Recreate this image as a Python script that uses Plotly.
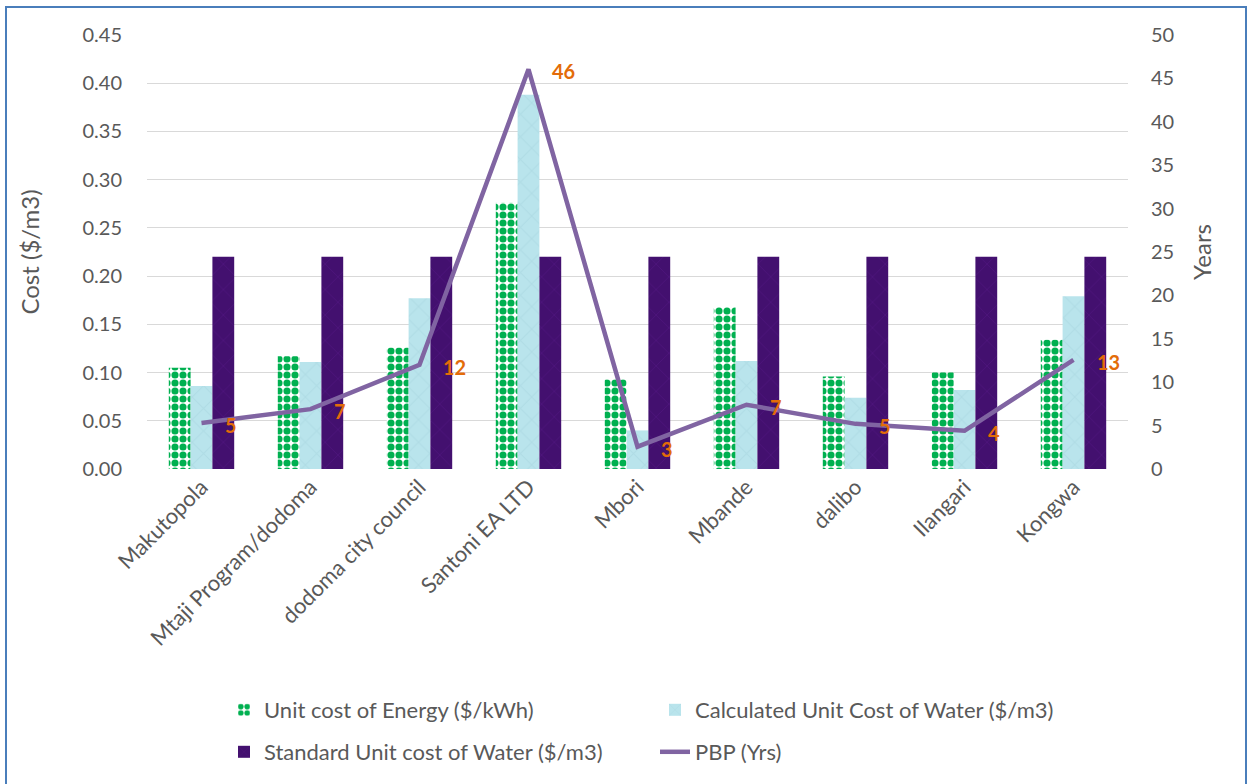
import plotly.graph_objects as go

# Sites
sites = ["Makutopola", "Mtaji Program/dodoma", "dodoma city council", "Santoni EA LTD",
         "Mbori", "Mbande", "dalibo", "Ilangari", "Kongwa"]

# Unit cost of energy ($/kWh)
energy_cost = [0.105, 0.117, 0.126, 0.276, 0.093, 0.168, 0.096, 0.100, 0.134]
# Calculated unit cost of water ($/m3)
calc_water_cost = [0.086, 0.111, 0.177, 0.388, 0.040, 0.112, 0.074, 0.082, 0.179]
# Standard unit cost of water ($/m3)
std_water_cost = [0.22, 0.22, 0.22, 0.22, 0.22, 0.22, 0.22, 0.22, 0.22]
# Payback period (years)
pbp_years = [5.3, 6.9, 12.0, 46.05, 2.57, 7.4, 5.2, 4.4, 12.56]

left_ticks = [0.0, 0.05, 0.10, 0.15, 0.20, 0.25, 0.30, 0.35, 0.40, 0.45]
right_ticks = [0, 5, 10, 15, 20, 25, 30, 35, 40, 45, 50]

FONT = "Lato, 'Open Sans', sans-serif"
GREY = "#595959"
ORANGE = "#E36C09"

W, H = 1249, 784
ML, MR, MT, MB = 147, 121, 35, 315
PW = W - ML - MR
PH = H - MT - MB


def px_x(px):
    return (px - ML) / PW


def px_y(py):
    return (H - MB - py) / PH


fig = go.Figure()

fig.add_trace(go.Bar(
    x=sites, y=energy_cost, name="Unit cost of Energy ($/kWh)",
    marker=dict(color="white", line=dict(width=0),
                pattern=dict(shape=".", fgcolor="#00B050", bgcolor="white",
                             size=8, solidity=0.62, fillmode="replace")),
    legend="legend",
))
fig.add_trace(go.Bar(
    x=sites, y=calc_water_cost, name="Calculated Unit Cost of Water ($/m3)",
    marker=dict(color="#B9E4EC", line=dict(width=0),
                pattern=dict(shape="x", fgcolor="#A5D3DD", size=16, solidity=0.12,
                             fillmode="overlay")),
    legend="legend",
))
fig.add_trace(go.Bar(
    x=sites, y=std_water_cost, name="Standard Unit cost of Water ($/m3)",
    marker=dict(color="#43106F", line=dict(width=0),
                pattern=dict(shape="x", fgcolor="#561A86", size=18, solidity=0.1,
                             fillmode="overlay")),
    legend="legend2",
))
fig.add_trace(go.Scatter(
    x=sites, y=pbp_years, name="PBP (Yrs)", yaxis="y2", mode="lines",
    line=dict(color="#8064A2", width=4.5),
    legend="legend2",
))

# value labels beside each PBP point
for s, v in zip(sites, pbp_years):
    fig.add_annotation(x=s, y=v, xref="x", yref="y2", text=f"{v:.0f}",
                       showarrow=False, xanchor="left", yanchor="middle",
                       xshift=21, yshift=-2,
                       font=dict(family=FONT, size=20, color=ORANGE, weight="bold"))

# chart outline
fig.add_shape(type="rect", xref="paper", yref="paper",
              x0=px_x(6), x1=px_x(1246), y0=px_y(787), y1=px_y(7),
              line=dict(color="#4A7EBB", width=2), fillcolor="rgba(0,0,0,0)",
              layer="below")

legend_font = dict(family=FONT, size=22, color=GREY)

fig.update_layout(
    width=W, height=H,
    margin=dict(l=ML, r=MR, t=MT, b=MB, autoexpand=False),
    paper_bgcolor="white", plot_bgcolor="white",
    barmode="group", bargap=0.4, bargroupgap=0,
    font=dict(family=FONT, color=GREY),
    xaxis=dict(tickangle=-45, tickfont=dict(size=22, color=GREY), automargin=False,
               showgrid=False, showline=False, ticks="", zeroline=False),
    yaxis=dict(range=[0, 0.45], tickvals=left_ticks, tickformat=".2f",
               tickfont=dict(size=20, color=GREY), ticklabelstandoff=24, automargin=False,
               showgrid=True, gridcolor="#D9D9D9", gridwidth=1.3,
               zeroline=False, showline=False,
               title=dict(text="Cost ($/m3)", font=dict(size=24, color=GREY), standoff=36)),
    yaxis2=dict(range=[0, 50], tickvals=right_ticks, overlaying="y", side="right",
                tickfont=dict(size=20, color=GREY), ticklabelstandoff=22, automargin=False,
                showgrid=False, zeroline=False, showline=False,
                title=dict(text="Years", font=dict(size=24, color=GREY), standoff=20)),
    legend=dict(orientation="h", x=px_x(224), y=px_y(689), xanchor="left", yanchor="top",
                entrywidth=386, font=legend_font, bgcolor="rgba(0,0,0,0)", traceorder="normal"),
    legend2=dict(orientation="h", x=px_x(224), y=px_y(731), xanchor="left", yanchor="top",
                 entrywidth=386, font=legend_font, bgcolor="rgba(0,0,0,0)", traceorder="normal"),
    showlegend=True,
)

fig.write_html("out.html")
